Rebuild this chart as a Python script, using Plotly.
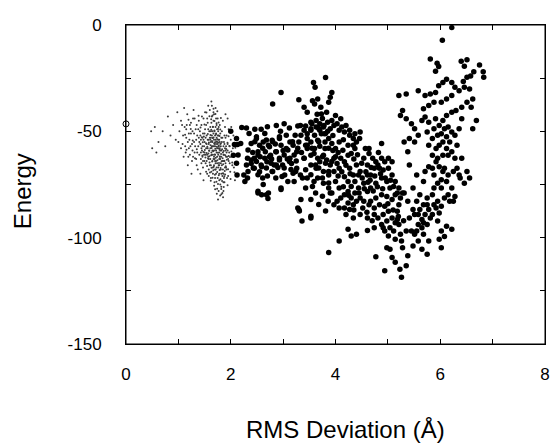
import plotly.graph_objects as go

# Native structure reference point (open circle)
native_rms = [0.0]
native_energy = [-46.5]

# Near-native decoys (small grey dots): (RMS, Energy)
grey_points = [
    (0.48,-50),(0.50,-58),(0.55,-48),(0.58,-60),(0.62,-55),(0.70,-50),(0.75,-57),(0.80,-43),(0.85,-52),(0.90,-47),(0.95,-54),(0.98,-41),
    (1.02,-50),(1.05,-45),(1.08,-56),(1.10,-62),(1.12,-48),(1.15,-53),(1.17,-42),(1.20,-58),(1.22,-47),(1.24,-51),(1.26,-64),(1.28,-44),
    (1.30,-55),(1.31,-60),(1.33,-49),(1.35,-66),(1.36,-52),(1.38,-57),(1.39,-45),(1.40,-61),(1.05,-58),(1.14,-60),(1.21,-54),(1.27,-59),
    (1.34,-63),(1.11,-39),(1.29,-40),(1.18,-66),(1.25,-70),(1.37,-68),
    (1.41,-50),(1.42,-56),(1.43,-63),(1.44,-47),(1.45,-59),(1.46,-53),(1.47,-67),(1.48,-44),(1.49,-61),(1.50,-55),(1.51,-49),(1.52,-65),
    (1.53,-58),(1.54,-52),(1.55,-70),(1.56,-46),(1.57,-62),(1.58,-56),(1.59,-50),(1.60,-66),(1.42,-70),(1.45,-43),(1.48,-73),(1.51,-41),
    (1.54,-64),(1.57,-38),(1.59,-59),(1.43,-54),(1.46,-57),(1.50,-60),(1.53,-47),(1.56,-54),(1.58,-68),(1.44,-65),(1.47,-51),(1.52,-53),
    (1.55,-61),(1.60,-53),(1.49,-57),(1.57,-49),
    (1.61,-48),(1.62,-55),(1.63,-60),(1.63,-36),(1.64,-52),(1.65,-64),(1.66,-57),(1.67,-45),(1.68,-62),(1.69,-50),(1.70,-68),(1.71,-54),
    (1.72,-59),(1.73,-47),(1.74,-65),(1.75,-56),(1.76,-61),(1.77,-52),(1.78,-70),(1.79,-58),(1.80,-63),(1.61,-58),(1.62,-66),(1.64,-43),
    (1.65,-55),(1.66,-70),(1.67,-51),(1.68,-57),(1.69,-74),(1.70,-61),(1.71,-48),(1.72,-64),(1.73,-53),(1.74,-58),(1.75,-72),(1.76,-50),
    (1.77,-66),(1.78,-60),(1.79,-55),(1.80,-75),(1.62,-50),(1.64,-61),(1.66,-48),(1.68,-54),(1.70,-57),(1.72,-51),(1.74,-62),(1.76,-67),
    (1.78,-54),(1.80,-59),(1.63,-69),(1.67,-41),(1.71,-39),(1.75,-44),(1.79,-47),(1.65,-59),(1.69,-63),(1.73,-67),(1.77,-57),(1.61,-63),
    (1.81,-57),(1.82,-62),(1.83,-66),(1.84,-53),(1.85,-60),(1.86,-70),(1.87,-55),(1.88,-64),(1.89,-48),(1.90,-59),(1.91,-67),(1.92,-52),
    (1.93,-62),(1.94,-56),(1.95,-71),(1.96,-49),(1.97,-60),(1.98,-65),(2.00,-54),(2.02,-62),(2.04,-58),(2.06,-67),(2.08,-73),(1.82,-76),
    (1.84,-79),(1.86,-78),(1.88,-74),(1.85,-45),(1.90,-42),(1.94,-44),(1.83,-50),(1.87,-61),(1.91,-57),(1.95,-63),(1.99,-69),(1.81,-68),
    (1.86,-64),(1.89,-58),(1.93,-72),(2.01,-48),
    (1.62,-53),(1.64,-57),(1.66,-61),(1.68,-66),(1.70,-52),(1.72,-56),(1.74,-49),(1.76,-54),(1.78,-63),(1.80,-51),(1.82,-59),(1.84,-64),
    (1.86,-57),(1.88,-52),(1.90,-65),(1.92,-60),(1.61,-54),(1.63,-46),(1.65,-50),(1.67,-63),(1.69,-56),(1.71,-65),(1.73,-60),(1.75,-52),
    (1.77,-48),(1.79,-62),(1.81,-65),(1.83,-55),(1.85,-68),(1.87,-72),(1.89,-67),(1.91,-62),(1.58,-63),(1.56,-58),(1.54,-56),(1.52,-61),
    (1.50,-51),(1.48,-54),(1.46,-62),(1.44,-58),(1.42,-52),(1.40,-55),(1.38,-49),(1.36,-60),(1.34,-54),(1.32,-57),(1.30,-51),(1.28,-62),
    (1.26,-56),(1.24,-46),(1.22,-61),(1.20,-51),(1.18,-55),(1.16,-47),(1.13,-57),(1.09,-52),(1.66,-53),(1.68,-59),(1.70,-64),(1.72,-70),
    (1.74,-55),(1.76,-58),(1.78,-66),(1.80,-56),(1.82,-53),(1.84,-71),(1.86,-61),(1.88,-56),(1.90,-53),(1.92,-68),(1.94,-59),(1.96,-64),
    (1.98,-57),(2.03,-66),(2.05,-52),(1.64,-38),(1.60,-40),(1.68,-42),(1.55,-44),(1.72,-44),(1.66,-67),(1.70,-72),(1.74,-77),(1.78,-73),
    (1.82,-70),(1.86,-74),(1.62,-72),(1.58,-71),(1.53,-69),(1.47,-64),(1.43,-60),(1.39,-53),(1.35,-47),(1.31,-44),(1.27,-50),(1.23,-57),
    (1.19,-62),(1.15,-49),(1.07,-47),(1.00,-55),
    (1.615,-56.5),(1.625,-61.3),(1.635,-57.8),(1.645,-64.2),(1.655,-53.1),(1.665,-59.4),(1.675,-66.7),(1.685,-55.6),(1.695,-60.9),
    (1.705,-58.2),(1.715,-62.4),(1.725,-54.8),(1.735,-57.3),(1.745,-63.6),(1.755,-60.1),(1.765,-55.2),(1.775,-64.9),(1.785,-58.7),
    (1.795,-61.8),(1.805,-67.3),(1.815,-60.6),(1.825,-64.1),(1.835,-58.4),(1.845,-62.7),(1.855,-65.5),(1.865,-59.2),(1.875,-63.8),
    (1.885,-68.6),(1.895,-61.2),(1.905,-66.4),
    (1.612,-51.7),(1.628,-49.3),(1.641,-54.6),(1.659,-47.8),(1.672,-52.9),(1.688,-49.6),(1.701,-55.1),(1.717,-51.4),(1.729,-46.2),
    (1.743,-53.7),(1.758,-48.9),(1.771,-56.8),(1.786,-52.2),(1.799,-49.1),(1.812,-55.7),
    (1.603,-69.4),(1.618,-73.2),(1.633,-67.1),(1.652,-71.8),(1.667,-68.3),(1.683,-75.6),(1.698,-70.4),(1.712,-67.9),(1.727,-73.7),
    (1.741,-69.1),(1.756,-74.8),(1.772,-70.6),(1.788,-68.2),(1.803,-72.5),(1.819,-77.1),(1.834,-73.4),(1.851,-69.7),(1.866,-76.2),
    (1.878,-71.1),(1.893,-70.3),
    (1.553,-57.2),(1.566,-62.8),(1.578,-53.9),(1.587,-59.1),(1.596,-64.6),(1.548,-66.3),(1.562,-51.2),(1.574,-60.4),(1.583,-55.3),
    (1.592,-61.7),(1.505,-58.8),(1.517,-62.3),(1.528,-55.6),(1.539,-60.2),(1.496,-63.9),(1.487,-52.4),(1.476,-59.7),(1.465,-55.1),
    (1.458,-61.4),(1.447,-52.8),
    (1.914,-58.3),(1.926,-63.4),(1.938,-55.4),(1.949,-67.8),(1.961,-61.6),(1.973,-56.9),(1.986,-62.1),(1.997,-72.4),(2.012,-59.5),
    (2.028,-64.7),(2.044,-55.8),(2.057,-61.9),(2.071,-69.2),(2.089,-57.7),(1.939,-75.3),(1.958,-52.3),
    (1.652,-42.6),(1.671,-39.4),(1.689,-45.1),(1.708,-41.8),(1.627,-44.3),(1.593,-42.9),(1.744,-40.6),(1.768,-45.9),(1.812,-43.7),
    (1.536,-41.2),(1.498,-46.8),(1.423,-48.2),(1.386,-42.7),(1.352,-58.4),(1.318,-62.6),(1.274,-54.3),(1.236,-48.9),(1.193,-44.6),
    (1.155,-58.7),(1.128,-51.6),
    (1.702,-77.2),(1.734,-79.4),(1.769,-78.1),(1.798,-80.2),(1.821,-79.6),(1.853,-81.0),(1.757,-82.1),
]

# Other decoys (black dots): (RMS, Energy)
black_points = [
    (2.21,-48.2),(2.30,-48.4),(2.46,-49.0),(2.58,-49.0),(2.70,-47.9),(2.87,-47.2),(3.02,-46.4),(3.12,-48.4),(3.28,-47.5),(3.43,-47.5),
    (3.55,-46.4),(3.68,-48.7),(3.78,-47.2),(2.07,-56.2),(2.13,-56.2),(2.11,-53.4),(2.00,-50.0),(2.14,-61.1),(2.11,-65.0),(2.27,-73.6),
    (2.33,-68.9),(2.33,-58.8),(2.46,-54.9),(2.49,-52.6),(2.55,-56.5),(2.61,-58.0),(2.68,-54.1),(2.74,-57.2),(2.80,-54.9),(2.87,-59.6),
    (2.93,-53.4),(2.96,-56.5),(3.02,-61.1),(3.09,-58.8),(3.12,-64.2),(3.18,-54.9),(3.21,-61.1),(3.28,-58.0),(3.34,-51.8),(3.40,-62.7),
    (3.46,-56.5),(3.53,-49.5),(3.59,-60.4),(3.62,-65.8),(3.68,-54.9),(3.75,-61.9),(3.81,-51.0),(3.87,-58.0),(2.52,-61.1),(2.49,-64.2),
    (2.58,-65.8),(2.65,-62.7),(2.68,-67.3),(2.74,-61.9),(2.77,-65.0),(2.80,-68.9),(2.87,-65.8),(2.93,-63.5),(2.98,-71.2),(3.02,-67.3),
    (2.52,-70.4),(2.61,-72.0),(2.43,-67.3),(2.39,-63.5),(2.30,-65.8),(2.52,-78.2),(2.68,-79.8),(2.71,-81.6),(2.96,-77.4),(3.21,-73.6),
    (3.24,-68.9),(3.37,-72.0),(3.43,-76.7),(3.34,-82.1),(3.28,-86.0),(3.31,-87.5),(3.53,-82.1),(3.53,-89.9),(3.62,-79.0),(3.68,-84.4),
    (3.75,-80.5),(3.81,-87.5),(3.86,-82.9),(3.90,-79.0),(3.43,-68.1),(3.53,-70.4),(3.75,-72.0),(3.87,-68.9),(3.93,-64.2),(3.81,-65.0),
    (3.68,-67.3),(3.59,-73.6),(3.87,-74.3),
    (3.36,-92.2),(3.30,-86.8),(3.53,-90.7),(3.87,-107.0),(4.07,-101.6),(4.24,-96.1),(4.30,-99.2),(4.40,-98.4),(4.61,-96.6),(4.77,-109.0),
    (4.94,-115.5),(4.74,-95.3),
    (2.96,-31.7),(2.80,-37.1),(3.30,-35.1),(3.58,-27.0),(3.61,-29.3),(3.81,-24.7),(3.56,-35.6),(3.60,-37.1),(3.66,-34.8),(3.72,-38.7),
    (3.87,-36.3),(3.90,-34.0),(3.93,-31.7),(3.83,-41.0),(4.00,-42.5),(4.10,-44.1),(3.40,-38.7),(3.46,-41.0),(3.73,-41.8),(3.53,-45.7),
    (3.63,-44.9),(3.70,-46.4),(3.77,-48.0),(3.90,-48.8),(3.97,-47.2),(4.07,-49.5),(4.17,-50.3),(4.27,-51.9),(4.34,-53.4),(4.47,-50.3),
    (4.46,-53.4),(3.33,-47.2),(3.40,-49.5),(3.46,-51.1),(3.53,-48.8),(3.60,-51.9),(3.66,-54.2),(3.73,-51.1),(3.80,-55.0),(3.87,-53.4),
    (3.93,-55.7),(4.00,-58.1),(4.07,-55.0),(4.14,-58.9),(4.24,-56.5),(4.30,-60.4),(4.37,-58.1),(3.80,-58.1),(3.77,-61.2),(3.83,-63.5),
    (3.90,-65.8),(3.97,-62.7),(4.03,-65.1),(4.10,-62.7),(3.70,-64.3),(3.63,-67.4),(3.53,-65.8),(3.53,-61.2),(3.46,-58.1),(3.40,-62.7),
    (3.26,-59.6),(3.19,-56.5),(3.13,-62.7),(3.33,-70.5),(3.46,-72.0),(3.56,-75.9),(3.66,-72.0),(3.77,-74.4),(3.87,-76.7),(3.93,-79.0),
    (4.00,-73.6),(4.07,-76.7),(4.17,-71.3),(4.24,-73.6),(4.27,-67.4),(4.34,-70.5),(4.40,-65.8),(4.47,-68.9),(4.54,-62.7),(4.61,-65.8),
    (4.64,-60.4),(4.57,-58.1),(4.67,-70.5),(4.74,-67.4),(4.81,-65.8),(4.88,-62.7),(4.94,-64.3),(5.01,-67.4),(5.08,-70.5),(5.14,-73.6),
    (5.21,-76.7),(5.28,-79.0),(5.24,-81.4),(5.14,-79.8),(5.04,-76.7),(4.98,-73.6),(4.88,-72.0),(4.77,-74.4),(4.67,-76.7),(4.61,-78.3),
    (4.54,-74.4),(4.44,-76.7),(4.37,-79.0),(4.30,-81.4),(4.24,-83.7),(4.17,-86.0),(4.27,-86.8),(4.34,-84.5),(4.40,-82.9),(4.47,-81.4),
    (4.54,-82.9),(4.64,-84.5),(4.74,-86.0),(4.84,-84.5),(4.94,-85.2),(5.01,-87.6),(5.08,-90.7),(4.98,-92.2),(4.91,-89.1),(4.81,-90.7),
    (5.14,-93.0),(5.18,-87.6),(5.21,-84.5),(4.94,-96.9),(5.01,-99.2),(4.98,-104.7),(5.04,-105.4),(5.08,-109.3),(5.14,-111.6),(5.24,-98.4),
    (5.26,-101.6),(5.23,-114.8),(5.26,-118.6),(5.35,-113.2),(5.38,-108.5),(5.35,-96.9),(5.45,-96.9),(5.51,-98.4),(5.48,-103.9),(5.58,-101.6),
    (5.68,-98.4),(5.65,-105.4),(5.75,-107.8),(5.78,-101.6),(5.58,-93.8),(5.65,-91.5),(5.71,-89.1),(5.78,-86.8),(5.85,-89.1),(5.92,-86.0),
    (5.98,-88.4),(5.95,-92.2),(6.02,-96.9),(5.98,-100.8),(6.02,-104.7),(6.08,-99.5),(6.22,-96.1),(6.12,-94.6),(5.68,-84.5),(5.75,-81.4),
    (5.85,-79.8),(5.88,-76.7),(5.95,-74.4),(6.02,-76.7),(6.08,-81.4),(6.15,-79.8),(6.18,-82.9),(6.22,-76.7),(6.12,-73.6),(6.15,-70.5),
    (6.25,-68.9),(6.05,-68.9),(5.98,-66.6),(5.92,-64.3),(5.85,-61.2),(5.78,-66.6),(5.71,-68.9),(5.68,-73.6),(5.61,-79.8),(5.55,-82.9),
    (5.48,-86.8),(5.41,-90.7),(5.51,-89.1),(5.61,-86.8),(5.38,-82.9),(5.31,-79.0),(5.48,-76.7),(5.55,-70.5),(5.41,-65.8),(5.38,-59.6),
    (5.31,-55.0),(5.41,-53.4),(5.51,-55.0),(5.58,-51.9),(5.51,-48.8),(5.45,-46.4),(5.35,-44.1),(5.24,-42.5),(5.28,-40.2),(5.21,-33.2),
    (5.35,-32.5),(5.58,-30.9),(5.71,-33.2),(5.81,-32.5),(5.91,-31.7),(5.97,-28.6),(6.05,-27.0),(6.12,-25.5),(6.22,-27.0),(6.28,-29.3),
    (6.36,-30.9),(6.46,-29.3),(6.56,-30.1),(6.62,-34.8),(6.51,-36.3),(6.41,-38.7),(6.30,-40.2),(6.22,-41.0),(6.12,-42.5),(6.05,-44.9),
    (6.08,-48.8),(6.15,-48.0),(6.22,-50.3),(6.28,-51.9),(6.18,-55.0),(6.12,-58.1),(6.05,-61.2),(5.98,-56.5),(5.95,-51.9),(5.88,-48.8),
    (5.78,-45.7),(5.71,-43.3),(5.65,-44.9),(5.85,-53.4),(5.78,-56.5),(5.75,-50.3),(5.68,-39.4),(5.78,-37.8),(5.88,-36.3),(6.02,-36.3),
    (6.12,-34.8),(6.22,-33.2),(6.59,-38.7),(6.69,-44.9),(6.62,-48.8),(6.41,-44.1),(6.36,-48.8),(6.32,-56.5),(6.41,-62.7),(6.32,-67.4),
    (6.38,-72.0),(6.51,-68.9),(6.56,-72.0),(6.46,-74.4),(6.36,-70.5),
    (6.64,-22.0),(6.82,-22.0),(6.83,-24.6),(6.75,-18.8),(6.40,-17.0),(6.51,-16.3),(6.46,-19.4),(5.81,-16.0),(5.94,-18.0),(5.97,-19.5),
    (5.91,-21.8),(6.04,-7.2),(6.22,-1.2),(6.58,-24.0),(6.51,-24.6),(6.44,-26.6),
    (4.71,-62.7),(4.77,-64.3),(4.84,-67.4),(4.91,-68.2),(4.61,-70.5),(4.51,-72.0),(4.44,-70.5),(4.37,-73.6),(4.30,-75.9),(4.24,-78.3),
    (4.17,-79.8),(4.10,-81.4),(4.03,-82.9),(3.97,-84.5),(4.07,-86.0),(4.20,-89.1),(4.34,-90.7),(4.47,-89.1),(4.61,-90.7),(4.74,-89.1),
    (4.88,-93.8),(4.67,-82.9),(4.77,-81.4),(4.88,-79.8),(4.98,-80.6),(5.08,-82.1),(5.18,-79.0),(5.11,-75.9),(5.01,-62.7),(5.08,-64.3),
    (4.88,-55.7),(4.64,-58.1),
    (2.19,-55.7),(2.32,-62.7),(2.39,-65.1),(2.45,-67.4),(2.56,-62.0),(2.59,-66.6),(2.69,-64.3),(2.79,-68.9),(2.86,-59.6),(2.93,-62.7),
    (2.99,-65.8),(3.06,-58.1),(3.13,-55.0),(3.23,-51.9),(2.86,-72.0),(2.96,-76.7),(2.72,-79.0),(2.59,-79.8),(2.52,-79.0),(2.32,-72.0),
    (2.25,-70.5),(2.12,-70.5),(2.05,-61.2),(2.39,-55.7),(2.49,-53.4),(2.62,-55.0),(2.72,-56.5),(2.79,-54.2),(2.66,-59.6),(2.52,-59.6),
    (2.45,-62.7),(2.76,-61.2),(2.83,-65.8),(3.03,-70.5),(3.09,-73.6),(3.19,-69.7),(3.16,-65.1),(3.26,-67.4),(3.06,-51.9),(2.93,-52.6),
    (3.63,-48.0),(3.70,-49.5),(3.79,-51.1),(3.85,-45.7),(3.93,-44.9),(4.03,-46.4),(4.12,-48.0),(4.20,-47.2),(4.27,-49.5),(4.37,-51.1),
    (4.40,-55.0),(4.34,-56.5),(4.24,-61.2),(4.17,-64.3),(4.07,-67.4),(3.97,-68.9),(3.87,-70.5),(3.77,-68.9),(3.66,-62.7),(3.60,-58.1),
    (3.53,-55.0),(3.46,-53.4),(3.43,-56.5),
    (5.92,-58.1),(5.85,-67.4),(5.88,-70.5),(5.95,-62.7),(6.05,-55.0),(6.12,-52.6),(6.02,-51.1),(5.98,-47.2),(5.91,-44.1),(6.15,-61.2),
    (6.22,-59.6),(6.28,-62.7),(6.08,-67.4),(6.02,-72.8),(5.95,-82.9),(5.88,-84.5),(6.02,-85.2),(5.81,-90.7),(5.75,-93.8),(5.65,-95.3),
    (5.55,-96.9),(5.68,-93.0),(5.58,-89.1),(5.75,-84.5),(6.28,-80.6),(6.25,-82.9),
    (5.18,-91.5),(5.21,-93.8),(5.11,-96.9),(5.04,-95.3),(5.14,-100.8),(5.28,-104.7),(4.91,-95.3),
    (4.20,-66.0),(4.28,-70.0),(4.35,-63.0),(4.42,-61.0),(4.50,-65.0),(4.58,-69.0),(4.66,-73.0),(4.72,-78.0),(4.80,-76.0),(4.86,-70.0),
    (4.95,-72.0),(5.05,-73.0),(4.45,-79.0),(4.52,-86.0),(4.60,-88.0),(4.70,-92.0),(4.35,-87.0),(4.25,-80.0),(4.15,-76.0),(4.05,-71.0),
    (4.12,-69.0),(4.55,-77.0),(4.62,-74.0),(4.68,-67.0),(4.75,-71.0),(4.82,-60.0),(4.90,-77.0),(5.00,-84.0),(5.10,-87.0),(5.20,-90.0),
    (5.30,-92.0),
    (2.35,-51.0),(2.42,-60.0),(2.55,-69.0),(2.62,-75.0),(2.70,-71.0),(2.78,-63.0),(2.85,-56.0),(2.90,-67.0),(3.00,-59.0),(3.08,-63.0),
    (3.15,-68.0),(3.25,-64.0),(3.35,-60.0),(3.30,-55.0),(2.65,-51.0),(2.95,-50.0),
    (3.65,-42.0),(3.75,-44.0),(3.85,-50.0),(3.95,-52.0),(4.05,-60.0),(4.15,-54.0),(3.70,-57.0),(3.95,-59.0),(4.00,-62.0),(3.55,-58.0),
]

grey_x = [p[0] for p in grey_points]
grey_y = [p[1] for p in grey_points]
black_x = [p[0] for p in black_points]
black_y = [p[1] for p in black_points]

x_ticks = [0, 2, 4, 6, 8]
y_ticks = [0, -50, -100, -150]

fig = go.Figure()
fig.add_trace(go.Scatter(x=grey_x, y=grey_y, mode="markers",
                         marker=dict(size=2, color="#3a3a3a", line=dict(width=0)),
                         showlegend=False, hoverinfo="skip"))
fig.add_trace(go.Scatter(x=black_x, y=black_y, mode="markers",
                         marker=dict(size=5.5, color="black", line=dict(width=0)),
                         showlegend=False, hoverinfo="skip"))
fig.add_trace(go.Scatter(x=native_rms, y=native_energy, mode="markers",
                         marker=dict(size=6, symbol="circle-open", color="black", line=dict(width=1)),
                         showlegend=False, hoverinfo="skip", cliponaxis=False))

font_family = "Liberation Sans, Arial, Helvetica, sans-serif"

# The page body has an 8px margin, so the figure is 8px smaller and margins are shifted.
fig.update_layout(
    width=550, height=435,
    margin=dict(l=118, r=8, t=14, b=99),
    paper_bgcolor="white", plot_bgcolor="white",
    font=dict(family=font_family, size=17, color="black"),
    xaxis=dict(range=[0, 8], tickvals=x_ticks, ticktext=[str(v) for v in x_ticks],
               showgrid=False, zeroline=False, showline=True, linecolor="black", linewidth=1,
               mirror="ticks", ticks="inside", ticklen=5, tickcolor="black",
               minor=dict(ticks="inside", dtick=1, ticklen=5, tickcolor="black", showgrid=False),
               ticklabelstandoff=15, tickfont=dict(size=17)),
    yaxis=dict(range=[-150, 0], tickvals=y_ticks, ticktext=[str(v) for v in y_ticks],
               showgrid=False, zeroline=False, showline=True, linecolor="black", linewidth=1,
               mirror="ticks", ticks="inside", ticklen=5, tickcolor="black",
               minor=dict(ticks="inside", dtick=25, ticklen=5, tickcolor="black", showgrid=False),
               ticklabelstandoff=20, tickfont=dict(size=17)),
    shapes=[dict(type="rect", xref="paper", yref="paper", x0=0, y0=0, x1=1, y1=1,
                 line=dict(color="black", width=1), fillcolor="rgba(0,0,0,0)", layer="above")],
    annotations=[
        dict(text="RMS Deviation (Å)", xref="paper", yref="paper", x=0.525, y=-0.267,
             xanchor="center", yanchor="middle", showarrow=False, font=dict(size=24)),
        dict(text="Energy", xref="paper", yref="paper", x=-0.245, y=0.48,
             xanchor="center", yanchor="middle", textangle=-90, showarrow=False, font=dict(size=24)),
    ],
)

fig.write_html("out.html")
